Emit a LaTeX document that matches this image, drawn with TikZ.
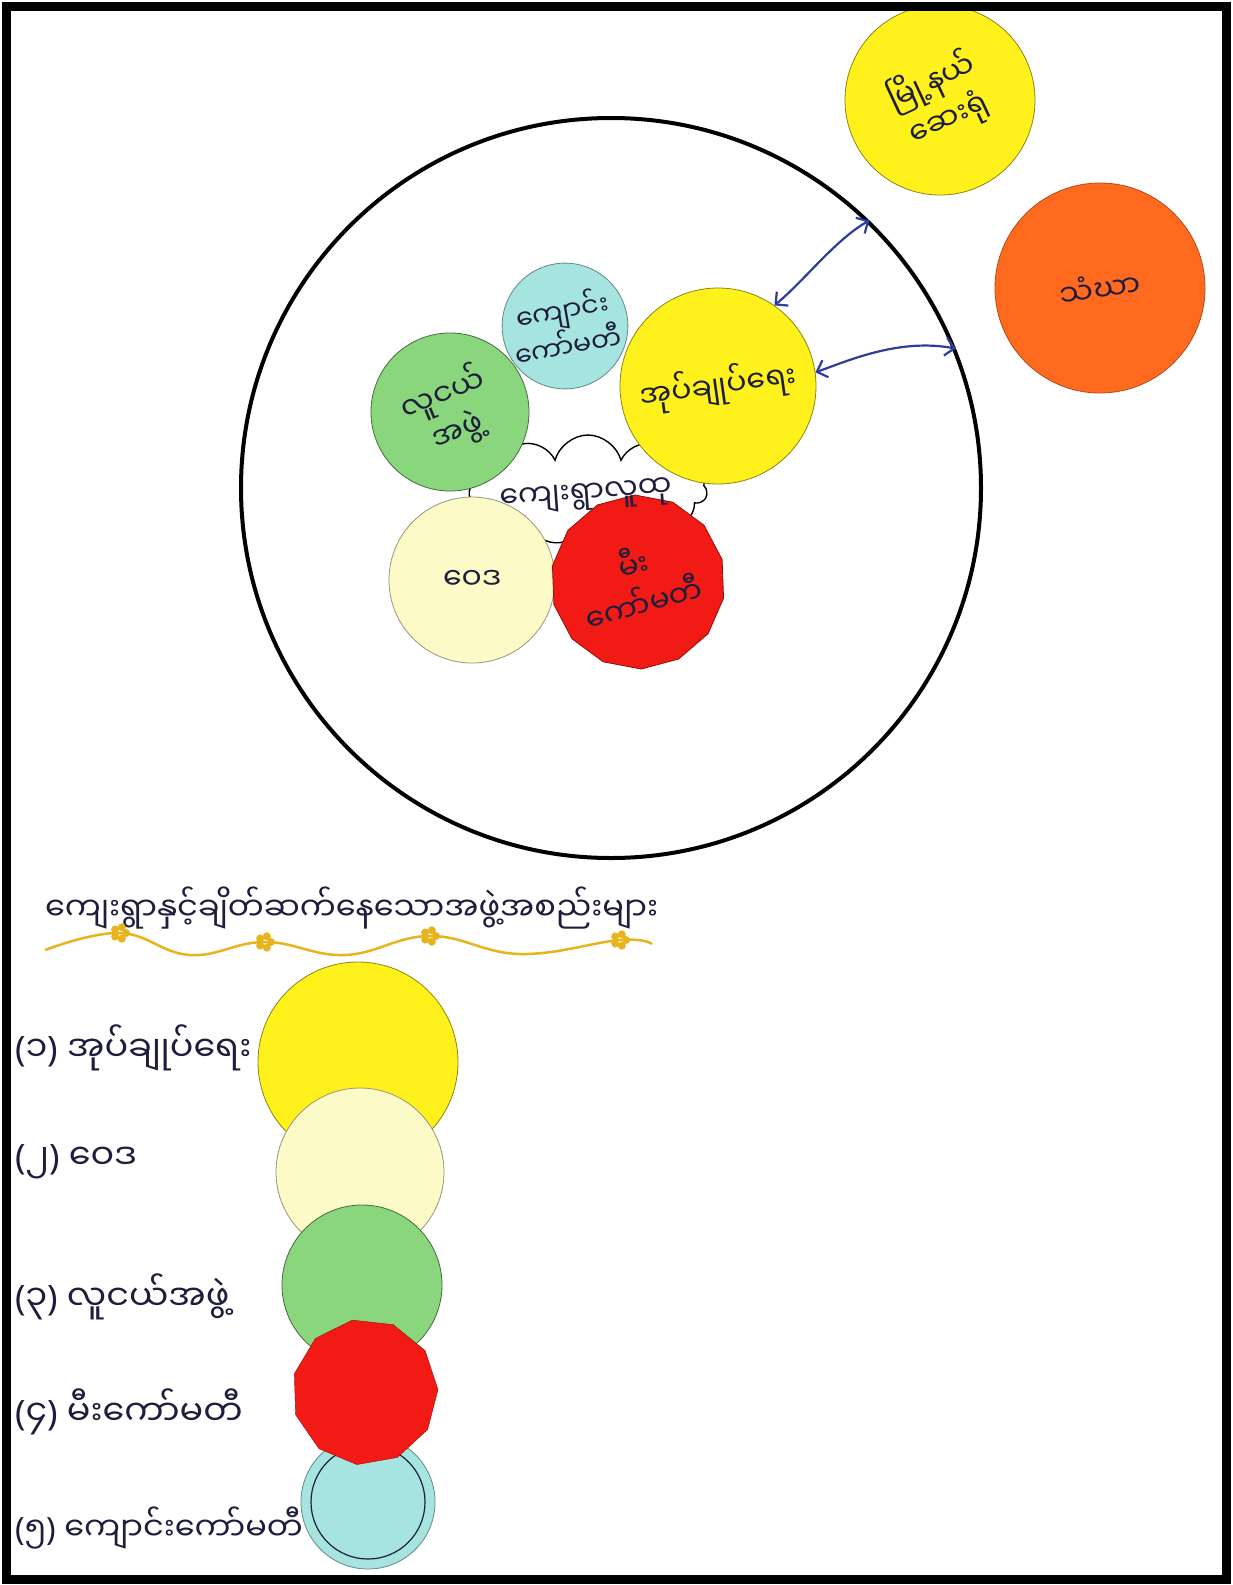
\documentclass[tikz,border=0pt]{standalone}
\usepackage{fontspec}
\newfontfamily\my[Script=Myanmar]{Noto Sans Myanmar UI}
\newfontfamily\pfont{Noto Sans}
\newcommand{\numlbl}[1]{{\pfont(}#1{\pfont)}}
\usetikzlibrary{shapes.symbols,shapes.geometric,arrows.meta}
\definecolor{cyel}{HTML}{FFF21C}
\definecolor{ccream}{HTML}{FCFAC6}
\definecolor{cgreen}{HTML}{8AD67C}
\definecolor{cred}{HTML}{F21A14}
\definecolor{ccyan}{HTML}{A6E4DF}
\definecolor{corange}{HTML}{FF6A1E}
\definecolor{ink}{HTML}{1E1E3C}
\definecolor{blueink}{HTML}{2E3C9C}
\definecolor{gold}{HTML}{E8B41E}
\tikzset{
  paper/.style={circle, inner sep=0pt, line width=0.8pt, align=center},
  lbl/.style={font=\my\fontsize{30}{40}\selectfont, text=ink},
  legendtxt/.style={font=\my\fontsize{35}{40}\selectfont, text=ink, anchor=west, inner sep=0pt},
  twoway/.style={blueink, line width=2.2pt, {Straight Barb[length=9pt,width=18pt]}-{Straight Barb[length=9pt,width=18pt]}},
}
\begin{document}
\begin{tikzpicture}[x=1pt,y=-1pt]
\useasboundingbox (0,0) rectangle (1232,1585);
\fill[white] (0,0) rectangle (1232,1585);

% outer system circle
\node[circle, draw, line width=4pt, minimum size=740pt, inner sep=0pt] (outer) at (611,488) {};

% outside circles
\node[paper, lbl, fill=cyel, draw=cyel!55!black, minimum size=190pt, rotate=25] (town) at (940,100) {မြို့နယ်\\ဆေးရုံ};
\node[paper, lbl, fill=corange, draw=corange!70!black, minimum size=210pt, rotate=8] (sangha) at (1100,288) {သံဃာ};

% cloud behind the inner circles
\node[cloud, cloud puffs=11, draw, fill=white, line width=1.4pt, minimum width=238pt, minimum height=110pt] (cloudbg) at (588,490) {};

% inner circles
\node[paper, font=\my\fontsize{27}{36}\selectfont, text=ink, fill=ccyan, draw=ccyan!60!black, minimum size=124pt, rotate=10] (school) at (565,326) {ကျောင်း\\ကော်မတီ};
\node[paper, lbl, fill=cgreen, draw=cgreen!50!black, minimum size=158pt, rotate=22] (youth) at (450,412) {လူငယ်\\အဖွဲ့};
\node[paper, lbl, fill=cyel, draw=cyel!55!black, minimum size=196pt, rotate=8] (admin) at (718,386) {အုပ်ချုပ်ရေး};
\node[paper, lbl, fill=ccream, draw=ccream!60!black, minimum size=166pt] (cream) at (472,580) {ဝေဒ};
\node[regular polygon, regular polygon sides=14, inner sep=0pt, line width=0.8pt, align=center, lbl, fill=cred, draw=cred!60!black, minimum size=142pt, rotate=15] (fire) at (638,582) {မီး\\ကော်မတီ};

% centre text over the cloud
\node[lbl, rotate=4] (village) at (586,497) {ကျေးရွာလူထု};

% two-way links between administration and the outer system
\draw[twoway] (outer.46) .. controls (835,240) and (805,280) .. (admin.47);
\draw[twoway] (outer.22) .. controls (900,338) and (850,360) .. (admin.0);

% title and decoration
\node[legendtxt, font=\my\fontsize{32}{38}\selectfont] (title) at (45,908) {ကျေးရွာနှင့်ချိတ်ဆက်နေသောအဖွဲ့အစည်းများ};
\draw[gold, line width=2.5pt] plot[smooth, tension=0.7] coordinates {(45,950) (120,933) (190,955) (265,942) (345,955) (430,936) (520,954) (620,940) (652,944)};
\foreach \fx/\fy in {120/933, 265/942, 430/936, 620/940}{
  \foreach \a in {0,72,...,288}{\fill[gold] (\fx,\fy) ++(\a:6) circle (4);}
}

% legend discs
\node[paper, fill=cyel, draw=cyel!55!black, minimum size=200pt] (l1) at (358,1062) {};
\node[paper, fill=ccream, draw=ccream!60!black, minimum size=168pt] (l2) at (360,1172) {};
\node[paper, fill=cgreen, draw=cgreen!50!black, minimum size=160pt] (l3) at (362,1285) {};
\node[paper, fill=ccyan, draw=ccyan!60!black, minimum size=134pt] (l5) at (368,1502) {};
\node[circle, draw=ink, line width=1.2pt, minimum size=114pt, inner sep=0pt] (l5in) at (l5) {};
\node[regular polygon, regular polygon sides=11, inner sep=0pt, fill=cred, draw=cred!60!black, minimum size=146pt, rotate=10] (l4) at (365,1392) {};

% legend labels
\node[legendtxt] (t1) at (15,1048) {\numlbl{၁} အုပ်ချုပ်ရေး};
\node[legendtxt] (t2) at (15,1162) {\numlbl{၂} ဝေဒ};
\node[legendtxt] (t3) at (15,1297) {\numlbl{၃} လူငယ်အဖွဲ့};
\node[legendtxt] (t4) at (15,1412) {\numlbl{၄} မီးကော်မတီ};
\node[legendtxt, font=\my\fontsize{32}{38}\selectfont] (t5) at (15,1528) {\numlbl{၅} ကျောင်းကော်မတီ};

% frame
\draw[line width=9pt] (6,6) rectangle (1226,1579);
\end{tikzpicture}
\end{document}
